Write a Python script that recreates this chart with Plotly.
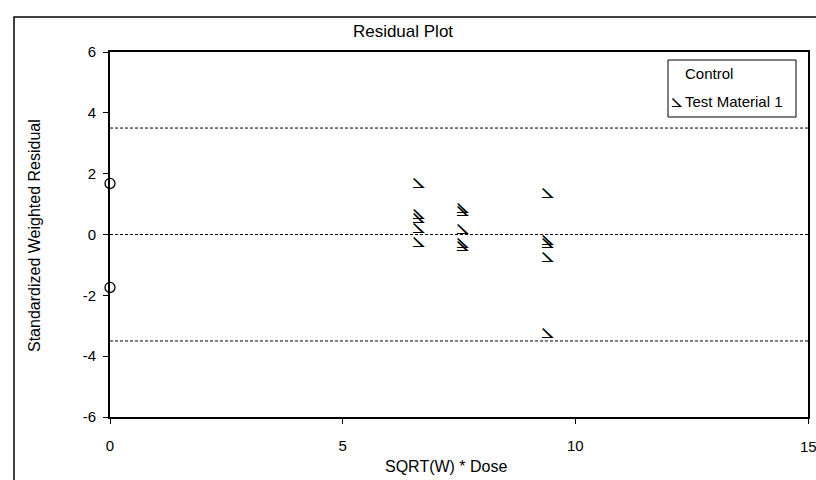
import plotly.graph_objects as go

# Data
control_x = [0, 0]
control_y = [1.68, -1.74]

test_x = [6.64, 6.64, 6.64, 6.64, 6.64,
          7.57, 7.57, 7.57, 7.57, 7.57,
          9.40, 9.40, 9.40, 9.40, 9.40]
test_y = [1.71, 0.70, 0.56, 0.24, -0.22,
          0.90, 0.79, 0.21, -0.25, -0.36,
          1.39, -0.14, -0.25, -0.71, -3.22]

ref_lines = [3.5, 0, -3.5]
x_ticks = [0, 5, 10, 15]
x_labels = ["0", "5", "10", "15"]
y_ticks = [-6, -4, -2, 0, 2, 4, 6]
y_labels = ["-6", "-4", "-2", "0", "2", "4", "6"]

FONT = "Liberation Sans, Arial, sans-serif"
GLYPH = "\u29a3"

# plot area in pixels (for paper-coordinate helpers)
L, R, T, B = 110, 808, 52, 417
def px(x):
    return (x - L) / (R - L)
def py(y):
    return (B - y) / (B - T)

fig = go.Figure()

for r in ref_lines:
    fig.add_trace(go.Scatter(x=[0, 15], y=[r, r], mode="lines",
                             line=dict(color="black", width=1, dash="3px,2px"),
                             hoverinfo="skip", showlegend=False))

fig.add_trace(go.Scatter(x=control_x, y=control_y, mode="markers", name="Control",
                         marker=dict(symbol="circle-open", size=10,
                                     color="black", line=dict(width=1.3, color="black")),
                         showlegend=False, cliponaxis=False))

fig.add_trace(go.Scatter(x=test_x, y=test_y, mode="text", name="Test Material 1",
                         text=[GLYPH] * len(test_x), textposition="middle center",
                         textfont=dict(family="DejaVu Sans", size=23, color="black"),
                         showlegend=False))

# Legend box (custom)
fig.add_shape(type="rect", xref="paper", yref="paper",
              x0=px(668), x1=px(796), y0=py(117), y1=py(60),
              line=dict(color="black", width=1), fillcolor="white", layer="above")
fig.add_annotation(xref="paper", yref="paper", x=px(683), y=py(73),
                   text="Control", showarrow=False, xanchor="left", yanchor="middle",
                   font=dict(family=FONT, size=15, color="black"))
fig.add_annotation(xref="paper", yref="paper", x=px(683), y=py(101),
                   text="Test Material 1", showarrow=False, xanchor="left", yanchor="middle",
                   font=dict(family=FONT, size=15, color="black"))
fig.add_annotation(xref="paper", yref="paper", x=px(685), y=py(100),
                   text=GLYPH, showarrow=False, xanchor="right", yanchor="middle",
                   font=dict(family="DejaVu Sans", size=20, color="black"))

# "15" tick label (partly cut at the right edge as in the reference)
fig.add_annotation(xref="x", yref="paper", x=x_ticks[-1], y=py(446),
                   text=x_labels[-1], showarrow=False, xanchor="center", yanchor="middle",
                   font=dict(family=FONT, size=15, color="black"))

# Outer chart border (top and left visible)
fig.add_shape(type="rect", xref="paper", yref="paper",
              x0=px(14), x1=1.3, y0=py(17), y1=-0.5,
              line=dict(color="black", width=1.5), layer="below")

# Axis titles
fig.add_annotation(xref="paper", yref="paper", x=px(446), y=py(466),
                   text="SQRT(W) * Dose", showarrow=False, xanchor="center", yanchor="middle",
                   font=dict(family=FONT, size=16, color="black"))
fig.add_annotation(xref="paper", yref="paper", x=px(35), y=py(236),
                   text="Standardized Weighted Residual", showarrow=False, textangle=-90,
                   xanchor="center", yanchor="middle",
                   font=dict(family=FONT, size=16, color="black"))

fig.update_layout(
    width=816, height=480,
    margin=dict(l=L, r=816 - R, t=T, b=480 - B, autoexpand=False),
    paper_bgcolor="white", plot_bgcolor="white",
    title=dict(text="Residual Plot", x=403 / 816, xanchor="center", y=1 - 31 / 480,
               yanchor="middle", font=dict(family=FONT, size=17, color="black")),
    font=dict(family=FONT, size=15, color="black"),
    xaxis=dict(range=[0, 15], tickvals=x_ticks, ticktext=x_labels, showgrid=False,
               zeroline=False, showline=True, linecolor="black", linewidth=2, mirror=True,
               ticks="outside", ticklen=5, tickcolor="black", tickwidth=1,
               ticklabelstandoff=9,
               tickfont=dict(family=FONT, size=15), fixedrange=True),
    yaxis=dict(range=[-6, 6], tickvals=y_ticks, ticktext=y_labels, showgrid=False,
               zeroline=False, showline=True, linecolor="black", linewidth=2, mirror=True,
               ticks="outside", ticklen=5, tickcolor="black", tickwidth=1,
               ticklabelstandoff=4,
               tickfont=dict(family=FONT, size=15), fixedrange=True),
    showlegend=False,
)

fig.write_html("out.html")
